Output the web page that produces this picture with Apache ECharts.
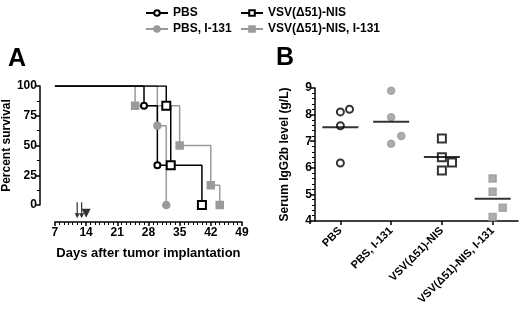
<!DOCTYPE html>
<html>
<head>
<meta charset="utf-8">
<script src="https://cdn.jsdelivr.net/npm/echarts@6/dist/echarts.min.js"></script>
<style>
  html, body { margin: 0; padding: 0; background: #fff; }
  #chart { width: 520px; height: 313px; }
</style>
</head>
<body>
<div id="chart"></div>
<script>
// panel A: survival steps, [day, percent]
const survPBS = [[7, 100], [27, 83.3], [30, 33.3], [33, 33.3]]
const survPBS131 = [[7, 100], [30, 66.7], [32, 0]]
const survVSV = [[7, 100], [32, 83.3], [33, 33.3], [40, 0]]
const survVSV131 = [[7, 100], [25, 83.3], [35, 50], [42, 16.7], [44, 0]]
// treatment days (arrows = virus, triangle = I-131)
const arrowDays = [12, 13]
const triangleDays = [14]

// panel B: IgG2b (g/L)
const groups = ['PBS', 'PBS, I-131', 'VSV(Δ51)-NIS', 'VSV(Δ51)-NIS, I-131']
const jitter = [
  [0, 0.18, 0, 0],
  [0, 0, 0.2, 0],
  [0, 0, 0.2, 0],
  [0, 0, 0.2, 0]
]
const igg = [
  [8.1, 8.2, 7.58, 6.18],
  [8.9, 7.9, 7.2, 6.9],
  [7.1, 6.4, 6.2, 5.9],
  [5.6, 5.1, 4.5, 4.15]
]
const means = [7.52, 7.73, 6.41, 4.84]

const black = '#000'
const gray = '#9a9a9a'
const font = 'Liberation Sans'

const chart = echarts.init(document.getElementById('chart'), null, { renderer: 'canvas' })

// no marker on the first/last bare points of each curve
function steps (arr, hideLast) {
  return arr.map((p, i) => (i === 0 || (hideLast && i === arr.length - 1)) ? { value: p, symbol: 'none' } : p)
}
function pts (g) {
  return igg[g].map((v, i) => [g + jitter[g][i], v])
}

const lbl = { fontFamily: font, fontWeight: 'bold', fontSize: 12, color: black }
const nameSt = { fontFamily: font, fontWeight: 'bold', fontSize: 12, color: black }
const arrowPath = 'path://M1.4,0 L2.6,0 L2.6,11 L4.5,11 L2,16 L-0.5,11 L1.4,11 Z'

const symbols = [
  { name: 'PBS', data: survPBS, color: black, symbol: 'emptyCircle', size: 6, hideLast: true },
  { name: 'PBS, I-131', data: survPBS131, color: gray, symbol: 'circle', size: 7 },
  { name: 'VSV(Δ51)-NIS', data: survVSV, color: black, symbol: 'emptyRect', size: 8 },
  { name: 'VSV(Δ51)-NIS, I-131', data: survVSV131, color: gray, symbol: 'rect', size: 7 }
]

const series = []
// draw gray first so black sits on top
;[1, 3, 0, 2].forEach(k => {
  const s = symbols[k]
  series.push({
    name: s.name,
    type: 'line',
    step: 'end',
    xAxisIndex: 0,
    yAxisIndex: 0,
    data: steps(s.data, s.hideLast),
    symbol: s.symbol,
    symbolSize: s.size,
    showAllSymbol: true,
    lineStyle: { color: s.color, width: 1.5 },
    itemStyle: { color: s.color, borderColor: s.color, borderWidth: 1.5 },
    animation: false
  })
})
series.push({
  type: 'scatter',
  xAxisIndex: 0,
  yAxisIndex: 0,
  clip: false,
  symbol: arrowPath,
  symbolSize: [5, 16],
  itemStyle: { color: black },
  data: arrowDays.map(d => [d, -4.5]),
  animation: false
})
series.push({
  type: 'scatter',
  xAxisIndex: 0,
  yAxisIndex: 0,
  clip: false,
  symbol: 'triangle',
  symbolRotate: 180,
  symbolSize: [9, 9],
  itemStyle: { color: black },
  data: triangleDays.map(d => [d, -7]),
  animation: false
})

// panel B points
symbols.forEach((s, g) => {
  series.push({
    type: 'scatter',
    xAxisIndex: 2,
    yAxisIndex: 1,
    data: pts(g),
    symbol: s.symbol,
    symbolSize: s.symbol === 'emptyRect' ? 8 : 7,
    itemStyle: { color: s.color, borderColor: s.color, borderWidth: 1.5 },
    animation: false
  })
})
series.push({
  type: 'scatter',
  xAxisIndex: 2,
  yAxisIndex: 1,
  data: means.map((m, g) => [g, m]),
  symbol: 'rect',
  symbolSize: [36, 2],
  itemStyle: { color: black },
  z: 5,
  animation: false
})

const legendText = { fontFamily: font, fontWeight: 'bold', fontSize: 12, color: black }

const options = {
  backgroundColor: '#fff',
  title: [
    { text: 'A', left: 3, top: 42, textStyle: { fontFamily: font, fontWeight: 'bold', fontSize: 25, color: black } },
    { text: 'B', left: 271, top: 41, textStyle: { fontFamily: font, fontWeight: 'bold', fontSize: 25, color: black } }
  ],
  legend: [
    {
      data: ['PBS', 'PBS, I-131'],
      orient: 'vertical',
      left: 140,
      top: 2,
      itemGap: 4,
      itemWidth: 22,
      itemHeight: 7,
      textStyle: legendText
    },
    {
      data: ['VSV(Δ51)-NIS', 'VSV(Δ51)-NIS, I-131'],
      orient: 'vertical',
      left: 235,
      top: 2,
      itemGap: 4,
      itemWidth: 22,
      itemHeight: 7,
      textStyle: legendText
    }
  ],
  grid: [
    { left: 54, top: 86, width: 188, height: 119 },
    { left: 315, top: 88, width: 203, height: 133 }
  ],
  xAxis: [
    {
      type: 'value',
      gridIndex: 0,
      min: 7,
      max: 49,
      interval: 7,
      offset: 17,
      axisLine: { onZero: false, lineStyle: { color: black, width: 1.5 } },
      axisTick: { show: true, length: 4, lineStyle: { color: black, width: 1.5 } },
      minorTick: { show: true, splitNumber: 7, length: 3, lineStyle: { color: black, width: 1 } },
      splitLine: { show: false },
      axisLabel: Object.assign({ margin: 5 }, lbl),
      name: 'Days after tumor implantation',
      nameLocation: 'middle',
      nameGap: 25,
      nameTextStyle: Object.assign({}, nameSt, { fontSize: 13 })
    },
    {
      type: 'category',
      gridIndex: 1,
      position: 'bottom',
      data: groups,
      boundaryGap: true,
      axisLine: { onZero: false, lineStyle: { color: black, width: 1.5 } },
      axisTick: { show: true, alignWithLabel: true, interval: 0, length: 4, lineStyle: { color: black, width: 1.5 } },
      axisLabel: Object.assign({ rotate: 45, interval: 0, margin: 8 }, lbl, { fontSize: 11 })
    },
    {
      type: 'value',
      gridIndex: 1,
      position: 'top',
      min: -0.5,
      max: 3.5,
      show: false,
      axisLine: { onZero: false }
    }
  ],
  yAxis: [
    {
      type: 'value',
      gridIndex: 0,
      min: 0,
      max: 100,
      interval: 25,
      offset: 15,
      axisLine: { show: true, onZero: false, lineStyle: { color: black, width: 1.5 } },
      axisTick: { show: true, length: 5, lineStyle: { color: black, width: 1.5 } },
      minorTick: { show: true, splitNumber: 2, length: 3, lineStyle: { color: black, width: 1 } },
      splitLine: { show: false },
      axisLabel: Object.assign({ margin: 3 }, lbl),
      name: 'Percent survival',
      nameLocation: 'middle',
      nameGap: 25,
      nameTextStyle: nameSt
    },
    {
      type: 'value',
      gridIndex: 1,
      min: 4,
      max: 9,
      interval: 1,
      axisLine: { show: true, onZero: false, lineStyle: { color: black, width: 1.5 } },
      axisTick: { show: true, length: 5, lineStyle: { color: black, width: 1.5 } },
      minorTick: { show: true, splitNumber: 5, length: 3, lineStyle: { color: black, width: 1 } },
      splitLine: { show: false },
      axisLabel: Object.assign({ margin: 3 }, lbl),
      name: 'Serum IgG2b level (g/L)',
      nameLocation: 'middle',
      nameGap: 24,
      nameTextStyle: nameSt
    }
  ],
  series: series
}

chart.setOption(options)
</script>
</body>
</html>
